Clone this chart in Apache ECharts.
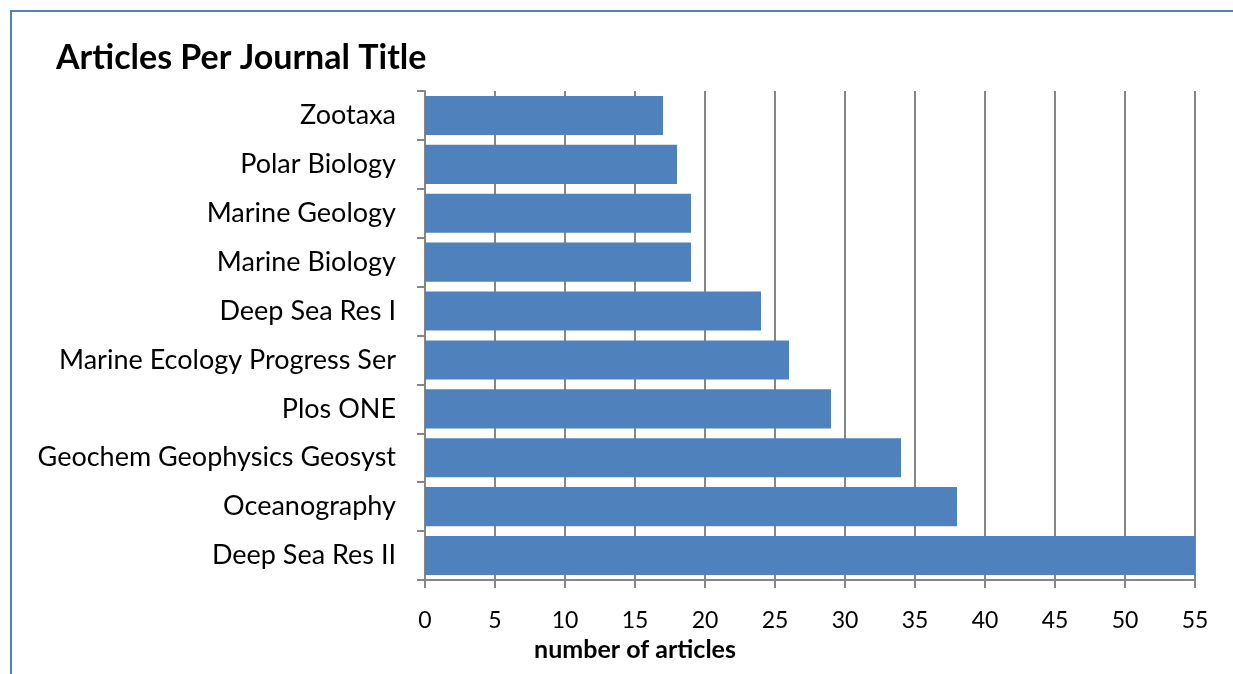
<!DOCTYPE html>
<html>
<head>
<meta charset="utf-8">
<script src="https://cdn.jsdelivr.net/npm/echarts@6/dist/echarts.min.js"></script>
<style>
html,body{margin:0;padding:0;background:#fff;}
#frame{position:absolute;left:10px;top:10px;width:1300px;height:700px;border-left:2px solid #4F81BD;border-top:2px solid #4F81BD;box-sizing:border-box;}
#main{position:absolute;left:0;top:0;width:1233px;height:674px;}
</style>
</head>
<body>
<div id="frame"></div>
<div id="main"></div>
<script>
const categories = ["Deep Sea Res II","Oceanography","Geochem Geophysics Geosyst","Plos ONE","Marine Ecology Progress Ser","Deep Sea Res I","Marine Biology","Marine Geology","Polar Biology","Zootaxa"];
const articleCounts = [55, 38, 34, 29, 26, 24, 19, 19, 18, 17];
const xTicks = {min: 0, max: 55, interval: 5};

const chart = echarts.init(document.getElementById('main'));
const font = 'Lato, "Open Sans", sans-serif';
chart.setOption({
  backgroundColor: 'transparent',
  animation: false,
  title: {
    text: 'Articles Per Journal Title',
    left: 51, top: 36,
    textStyle: {fontFamily: font, fontWeight: 'bold', fontSize: 34, color: '#000'}
  },
  graphic: [{
    type: 'text', x: 635, y: 650,
    style: {text: 'number of articles', fontFamily: font, fontWeight: 'bold', fontSize: 25, fill: '#000', align: 'center', verticalAlign: 'middle'}
  }],
  grid: {left: 425, right: 38, top: 91, bottom: 94, containLabel: false},
  xAxis: {
    type: 'value', min: xTicks.min, max: xTicks.max, interval: xTicks.interval,
    axisLine: {show: true, lineStyle: {color: '#868686', width: 2}},
    axisTick: {show: true, length: 8, lineStyle: {color: '#868686', width: 2}},
    splitLine: {show: true, lineStyle: {color: '#868686', width: 2}},
    axisLabel: {fontFamily: font, fontSize: 23, color: '#000', margin: 29}
  },
  yAxis: {
    type: 'category', data: categories,
    axisLine: {show: true, lineStyle: {color: '#868686', width: 2}},
    axisTick: {show: true, length: 8, lineStyle: {color: '#868686', width: 2}},
    axisLabel: {fontFamily: font, fontSize: 27, color: '#000', margin: 29}
  },
  series: [{
    type: 'bar', data: articleCounts, barCategoryGap: '20%',
    itemStyle: {color: '#4F81BD'}
  }]
});
</script>
</body>
</html>
